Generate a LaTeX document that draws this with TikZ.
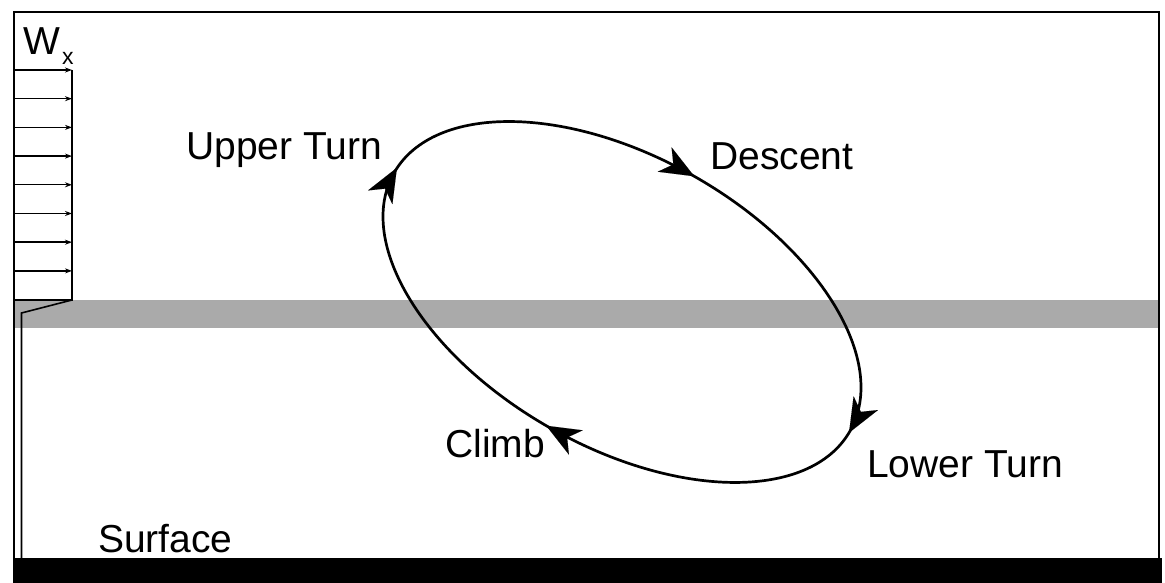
\documentclass[tikz,border=0pt]{standalone}
\usepackage{fontspec}
\setmainfont{Liberation Sans}
\usetikzlibrary{arrows.meta}
\definecolor{band}{RGB}{170,170,170}
\begin{document}
\begin{tikzpicture}[x=1pt,y=1pt,
  lbl/.style={anchor=base west, inner sep=0pt, font=\fontsize{39}{47}\selectfont},
  sublbl/.style={anchor=base west, inner sep=0pt, font=\fontsize{23}{27}\selectfont},
  frame/.style={line width=2pt},
  wind/.style={line width=1.4pt, -{Stealth[length=7pt,width=5pt]}},
  profile/.style={line width=1.6pt, line join=miter},
  orbit/.style={line width=2.7pt},
  turnhead/.style={line width=0.01pt, -{Stealth[length=34pt,width=28pt,inset=10pt]}}
]
\useasboundingbox (0,0) rectangle (1165,583);
\fill[white] (0,0) rectangle (1165,583);

% shear layer band
\fill[band] (14,255) rectangle (1159,283);

% ground
\fill[black] (13,0) rectangle (1162,25);

% outer frame
\draw[frame] (14,25) -- (14,571) -- (1159,571) -- (1159,25);

% wind profile above the shear layer
\coordinate (wtop) at (72,513);
\coordinate (wbot) at (72,283);
\foreach \k in {0,...,7} {
  \coordinate (ws\k) at (14,513-28.7*\k);
  \coordinate (we\k) at (72,513-28.7*\k);
  \draw[wind] (ws\k) -- (we\k);
}
\coordinate (wl) at (14,283);
\coordinate (dk) at (21.5,270);
\coordinate (dg) at (21.5,25);
\draw[profile] (wtop) -- (wbot) -- (wl);
\draw[profile] (wbot) -- (dk) -- (dg);

% flight loop
\begin{scope}[shift={(622,281)}, rotate=-29.5]
  \draw[orbit] (0,0) ellipse [x radius=262, y radius=145];
  \coordinate (up0) at (-262,5);  \coordinate (up1) at (-262,6);
  \coordinate (ds0) at (0,145);   \coordinate (ds1) at (1,145);
  \coordinate (lo0) at (262,-1);  \coordinate (lo1) at (262,-2);
  \coordinate (cl0) at (-4,-145); \coordinate (cl1) at (-5,-145);
  \draw[turnhead] (up0) -- (up1);
  \draw[turnhead] (ds0) -- (ds1);
  \draw[turnhead] (lo0) -- (lo1);
  \draw[turnhead] (cl0) -- (cl1);
\end{scope}

% labels
\node[lbl] (w) at (23,528) {W};
\node[sublbl] (wx) at (62,518) {x};
\node[lbl] (upper) at (186,423) {Upper Turn};
\node[lbl] (desc) at (710,413) {Descent};
\node[lbl] (lower) at (867,105) {Lower Turn};
\node[lbl] (climb) at (445,125) {Climb};
\node[lbl] (surf) at (98,30) {Surface};
\end{tikzpicture}
\end{document}
